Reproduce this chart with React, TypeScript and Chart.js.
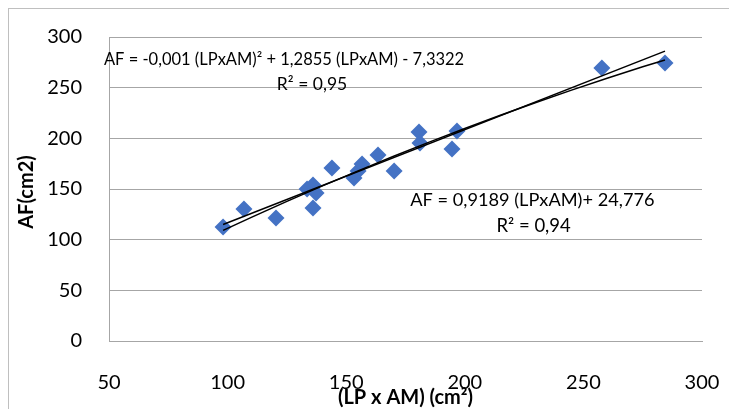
import React, { useEffect, useRef } from "react";
import { Chart, registerables } from "chart.js";

Chart.register(...registerables);

// Observed data (LP x AM, AF)
const lpxam = [98.1, 106.9, 120.4, 133.5, 136.0, 137.3, 136.0, 144.0, 153.3, 155.0, 156.7, 163.4, 170.2, 180.7, 181.1, 194.6, 196.7, 257.8, 284.4];
const af = [112.5, 130.3, 121.4, 150.0, 154.0, 146.1, 131.3, 170.7, 160.9, 167.8, 174.7, 183.6, 167.8, 206.3, 195.4, 189.5, 207.2, 269.4, 274.4];

// Trendline coefficients as printed on the chart
const linCoef = [0.9189, 24.776]; // a*x + b
const polyCoef = [-0.001, 1.2855, -7.3322]; // a*x^2 + b*x + c
const trendX = [98.1, 110, 125, 140, 155, 170, 185, 200, 215, 230, 245, 260, 275, 284.4];

const xTicks = [50, 100, 150, 200, 250, 300];
const yTicks = [0, 50, 100, 150, 200, 250, 300];

const eq1 = "AF = -0,001 (LPxAM)² + 1,2855 (LPxAM) - 7,3322";
const eq1R = "R² = 0,95";
const eq2 = "AF = 0,9189 (LPxAM)+ 24,776";
const eq2R = "R² = 0,94";
const xTitle = "(LP x AM) (cm²)";
const yTitle = "AF(cm2)";

const FONT = "Lato, 'Open Sans', sans-serif";

export default function App() {
  const ref = useRef<HTMLCanvasElement | null>(null);

  useEffect(() => {
    document.documentElement.style.overflow = "hidden";
    document.body.style.overflow = "hidden";
    const canvas = ref.current;
    if (!canvas) return;

    const points = lpxam.map((x, i) => ({ x, y: af[i] }));
    const linPts = [trendX[0], trendX[trendX.length - 1]].map((x) => ({ x, y: linCoef[0] * x + linCoef[1] }));
    const polyPts = trendX.map((x) => ({ x, y: polyCoef[0] * x * x + polyCoef[1] * x + polyCoef[2] }));

    const textPlugin = {
      id: "texts",
      afterDraw(chart: any) {
        const { ctx, scales, chartArea } = chart;
        const xs = scales.x;
        const ys = scales.y;
        ctx.save();
        ctx.fillStyle = "#000";
        ctx.textAlign = "center";
        ctx.textBaseline = "middle";
        const put = (t: string, x: number, y: number, size: number) => {
          ctx.font = `${size}px ${FONT}`;
          ctx.fillText(t, xs.getPixelForValue(x), ys.getPixelForValue(y));
        };
        put(eq1, 123.8, 277.3, 16.5);
        put(eq1R, 135.6, 253.6, 17.5);
        put(eq2, 228.5, 139.2, 18.2);
        put(eq2R, 229.0, 113.5, 18.5);

        ctx.font = `bold 20px ${FONT}`;
        ctx.fillText(xTitle, (chartArea.left + chartArea.right) / 2, 389);
        ctx.translate(18, (chartArea.top + chartArea.bottom) / 2 + 3);
        ctx.rotate(-Math.PI / 2);
        ctx.fillText(yTitle, 0, 0);
        ctx.restore();
      },
    };

    const chart = new Chart(canvas, {
      type: "scatter",
      data: {
        datasets: [
          {
            label: "poly",
            data: polyPts,
            showLine: true,
            borderColor: "#000",
            borderWidth: 1.5,
            pointRadius: 0,
            fill: false,
            order: 0,
          },
          {
            label: "linear",
            data: linPts,
            showLine: true,
            borderColor: "#000",
            borderWidth: 1.5,
            pointRadius: 0,
            fill: false,
            order: 0,
          },
          {
            label: "AF",
            data: points,
            pointStyle: "rectRot",
            pointRadius: 8.5,
            pointHoverRadius: 8.5,
            backgroundColor: "#4472c4",
            borderColor: "#4472c4",
            borderWidth: 0,
            order: 1,
          },
        ],
      },
      options: {
        responsive: false,
        animation: false,
        events: [],
        layout: { padding: { top: 28, right: 35, left: 0, bottom: 0 } },
        plugins: {
          legend: { display: false },
          tooltip: { enabled: false },
        },
        scales: {
          x: {
            type: "linear",
            min: xTicks[0],
            max: xTicks[xTicks.length - 1],
            afterBuildTicks: (s: any) => {
              s.ticks = xTicks.map((v) => ({ value: v }));
            },
            afterFit: (s: any) => {
              s.height = 68;
            },
            grid: { display: false, drawTicks: true, tickLength: 30 },
            border: { display: true, color: "#a6a6a6", width: 1 },
            ticks: {
              color: "#000",
              font: { family: FONT, size: 20 },
              padding: 0,
              maxRotation: 0,
            },
          },
          y: {
            type: "linear",
            min: yTicks[0],
            max: yTicks[yTicks.length - 1],
            afterBuildTicks: (s: any) => {
              s.ticks = yTicks.map((v) => ({ value: v }));
            },
            afterFit: (s: any) => {
              s.width = 100;
            },
            grid: {
              color: "#a6a6a6",
              lineWidth: 1,
              drawTicks: true,
              tickLength: 27,
              tickColor: "rgba(0,0,0,0)",
            },
            border: { display: true, color: "#a6a6a6", width: 1 },
            ticks: {
              color: "#000",
              font: { family: FONT, size: 20 },
              padding: 0,
            },
          },
        },
      },
      plugins: [textPlugin],
    } as any);

    return () => chart.destroy();
  }, []);

  return (
    <div
      style={{
        width: 728,
        height: 400,
        borderLeft: "1px solid #bfbfbf",
        borderTop: "1px solid #bfbfbf",
        background: "#fff",
      }}
    >
      <canvas ref={ref} width={728} height={400} style={{ display: "block" }} />
    </div>
  );
}
